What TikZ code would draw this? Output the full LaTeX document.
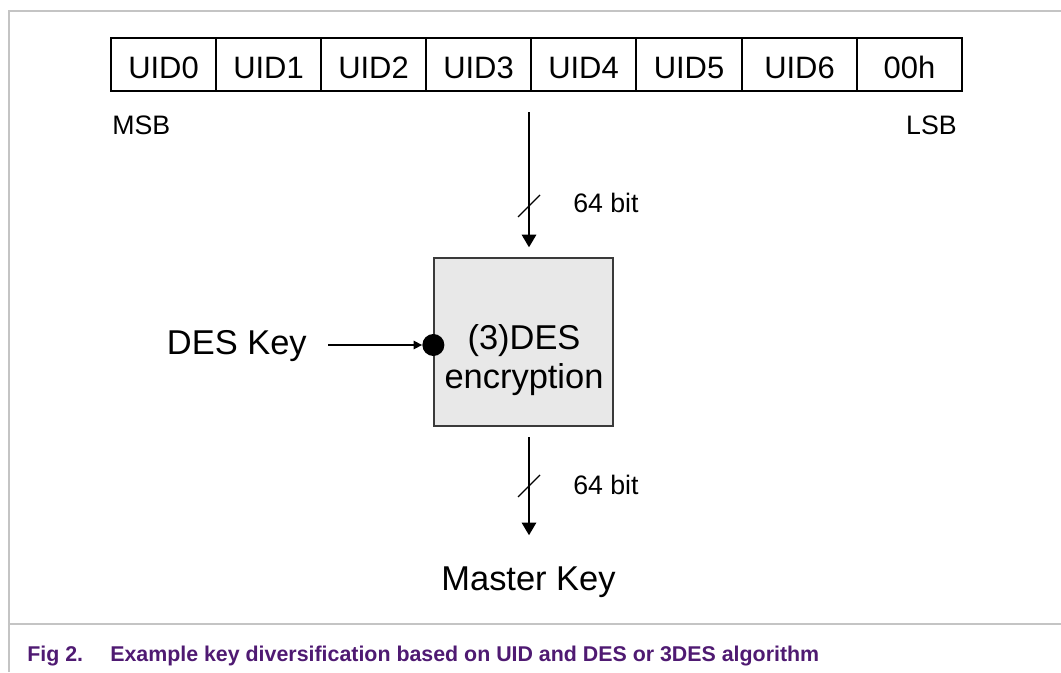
\documentclass[tikz,border=0pt]{standalone}
\usepackage{fontspec}
\setmainfont{Liberation Sans}
\usetikzlibrary{arrows.meta, positioning, calc}
\definecolor{framegray}{HTML}{C4C4C4}
\definecolor{boxfill}{HTML}{E8E8E8}
\definecolor{boxline}{HTML}{3A3A3A}
\definecolor{capcol}{HTML}{4F1A72}

\begin{document}
\begin{tikzpicture}[x=0.25mm, y=-0.25mm,
    cell/.style={rectangle, draw, line width=0.9pt, inner sep=0pt,
      minimum height=53*0.25mm, text height=20.6pt, text depth=0pt,
      font=\fontsize{22}{26}\selectfont},
    side/.style={inner sep=0pt, font=\fontsize{19}{22}\selectfont},
    bits/.style={inner sep=0pt, anchor=west, font=\fontsize{19}{22}\selectfont},
    big/.style={inner sep=0pt, font=\fontsize{24.5}{28}\selectfont},
    encbox/.style={rectangle, draw=boxline, fill=boxfill, line width=0.9pt,
      minimum width=179*0.25mm, minimum height=168*0.25mm, inner sep=0pt},
    dot/.style={circle, fill=black, minimum size=22*0.25mm, inner sep=0pt},
    bus/.style={line width=1.9pt, -{Triangle[length=9pt, width=10pt]}},
    keyarr/.style={line width=1.1pt, -{Triangle[length=6pt, width=6pt]}},
    slash/.style={line width=0.8pt},
    frame/.style={framegray, line width=1.1pt},
    captext/.style={anchor=base west, inner sep=0pt, text=capcol,
      font=\fontsize{15.2}{18}\selectfont\bfseries}]
  \useasboundingbox (0,0) rectangle (1061,672);
  % frame and caption rule
  \draw[frame] (9,672) -- (9,11) -- (1061,11);
  \draw[frame] (9,624) -- (1061,624);
  % UID row
  \foreach \n/\t/\l/\r in {0/UID0/111/216, 1/UID1/216/321, 2/UID2/321/426,
      3/UID3/426/531, 4/UID4/531/636, 5/UID5/636/742, 6/UID6/742/857,
      7/00h/857/962}
    \node[cell, minimum width={(\r-\l)*0.25mm}] (u\n) at ({(\l+\r)/2},64.5) {\t};
  \node[side, anchor=west] (msb) at (112,125) {MSB};
  \node[side, anchor=east] (lsb) at (957,125) {LSB};
  % encryption block
  \node[encbox] (enc) at (523.5,342) {};
  \node[big, align=center] (enctext) at (524,360) {(3)DES\\encryption};
  \node[dot] (keydot) at (enc.west |- 0,345) {};
  \coordinate (top) at (529,112);
  \coordinate (bot) at (529,437);
  \draw[bus, shorten >=10*0.25mm] (top) -- (top |- enc.north);
  \draw[slash] (518,217) -- (540,195);
  \node[bits] (bitsin) at (573,203) {64 bit};
  % key input
  \node[big, anchor=east] (deskey) at (307,346) {DES Key};
  \coordinate (keystart) at (328,345);
  \draw[keyarr] (keystart) -- (keydot.west);
  % output
  \node[big] (master) at (528.5,582) {Master Key};
  \draw[bus, shorten >=31*0.25mm] (bot) -- (master.north -| bot);
  \draw[slash] (518,497) -- (540,475);
  \node[bits] (bitsout) at (573,485) {64 bit};
  % caption
  \node[captext] (fig) at (27,661) {Fig 2.};
  \node[captext] (cap) at (110,661)
    {Example key diversification based on UID and DES or 3DES algorithm};
\end{tikzpicture}
\end{document}
